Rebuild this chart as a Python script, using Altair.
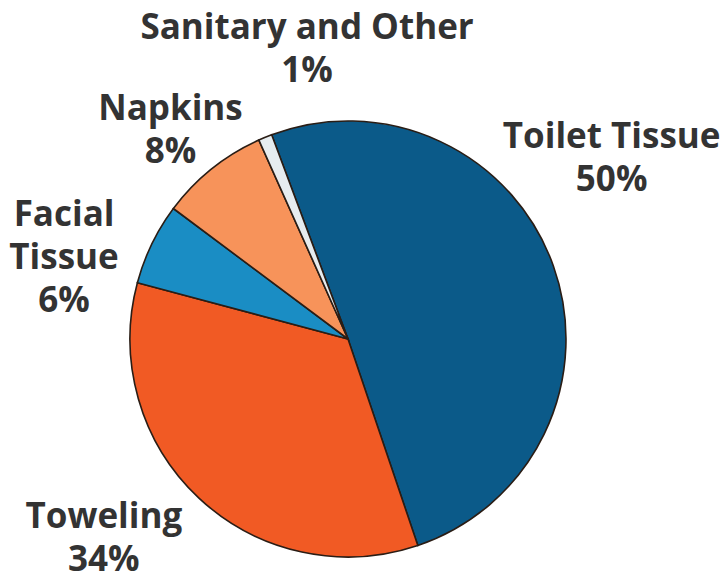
import math
import altair as alt
import pandas as pd

# ---- data ----
categories = ["Toilet Tissue", "Toweling", "Facial Tissue", "Napkins", "Sanitary and Other"]
percent = [50, 34, 6, 8, 1]
labels = ["Toilet Tissue\n50%", "Toweling\n34%", "Facial\nTissue\n6%", "Napkins\n8%", "Sanitary and Other\n1%"]
colors = ["#0b5a89", "#f15a24", "#1a8dc4", "#f7935a", "#e6ecef"]

df = pd.DataFrame({
    "category": categories,
    "percent": percent,
    "label": labels,
    "order": list(range(len(categories))),
})

# ---- layout / style ----
start = math.radians(-20.5)
theta = alt.Theta("percent:Q", stack=True,
                  scale=alt.Scale(range=[start, start + 2 * math.pi]))
order = alt.Order("order:Q")

pie = alt.Chart(df).mark_arc(radius=218, stroke="#2a1d15", strokeWidth=1.6).encode(
    theta=theta,
    order=order,
    color=alt.Color("category:N", scale=alt.Scale(domain=categories, range=colors), legend=None),
)

label_offsets = {
    "Toilet Tissue": (-19, -101),
    "Toweling": (-39, -41),
    "Facial Tissue": (-14, 7),
    "Napkins": (10, 4),
    "Sanitary and Other": (73, -33),
}

texts = []
for c in categories:
    dx, dy = label_offsets[c]
    t = alt.Chart(df).mark_text(
        radius=300, dx=dx, dy=dy, fontSize=35, fontWeight="bold", font="Open Sans",
        lineBreak="\n", lineHeight=43, align="center", baseline="middle", color="#333333",
    ).encode(
        theta=theta,
        order=order,
        text="label:N",
        opacity=alt.condition(alt.datum.category == c, alt.value(1), alt.value(0)),
    )
    texts.append(t)

chart = alt.layer(pie, *texts).properties(
    width=696,
    height=488,
    padding={"left": 0, "top": 95, "right": 30, "bottom": 0},
    autosize=alt.AutoSizeParams(type="none"),
    background="white",
).configure_view(stroke=None)

chart.save("out.html", embed_options={"renderer": "svg", "actions": False})
